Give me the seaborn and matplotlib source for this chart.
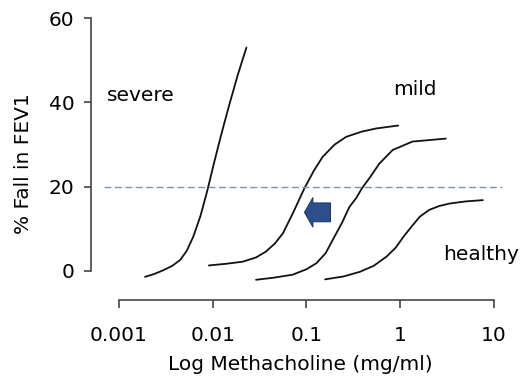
import matplotlib
matplotlib.use("Agg")
import numpy as np
import pandas as pd
import matplotlib.pyplot as plt
import seaborn as sns

# dose-response curves (dose in mg/ml, % fall in FEV1)
severe_dose = [0.0019, 0.0024, 0.0030, 0.0037, 0.0045, 0.0053, 0.0062, 0.0074, 0.0088,
               0.0103, 0.0119, 0.0135, 0.0152, 0.0185, 0.0229]
severe_fall = [-1.4, -0.7, 0.2, 1.2, 2.6, 4.8, 8.1, 13.0, 19.2,
               25.5, 31.0, 35.6, 39.8, 46.5, 53.0]

mild_dose = [0.0091, 0.014, 0.021, 0.029, 0.037, 0.046, 0.056, 0.072, 0.095,
             0.12, 0.149, 0.20, 0.264, 0.38, 0.55, 0.95]
mild_fall = [1.3, 1.7, 2.2, 3.2, 4.6, 6.5, 8.9, 13.8, 19.6,
             23.8, 27.1, 30.0, 31.8, 33.0, 33.8, 34.5]

moderate_dose = [0.029, 0.045, 0.071, 0.10, 0.127, 0.16, 0.191, 0.24, 0.287, 0.339,
                 0.39, 0.468, 0.60, 0.83, 1.35, 3.06]
moderate_fall = [-2.1, -1.6, -0.9, 0.4, 1.8, 4.2, 7.4, 11.5, 15.2, 17.3,
                 19.6, 22.0, 25.5, 28.7, 30.7, 31.4]

healthy_dose = [0.158, 0.25, 0.372, 0.52, 0.714, 0.90, 1.08, 1.35, 1.62, 2.04,
                2.6, 3.37, 5.0, 7.6]
healthy_fall = [-2.0, -1.3, -0.2, 1.2, 3.4, 5.6, 8.1, 10.8, 12.9, 14.5,
                15.4, 16.0, 16.5, 16.8]

threshold = 20
x_ticks = [0.001, 0.01, 0.1, 1, 10]
x_tick_labels = ["0.001", "0.01", "0.1", "1", "10"]
y_ticks = [0, 20, 40, 60]

frames = []
for name, d, f in [("severe", severe_dose, severe_fall),
                   ("mild", mild_dose, mild_fall),
                   ("moderate", moderate_dose, moderate_fall),
                   ("healthy", healthy_dose, healthy_fall)]:
    frames.append(pd.DataFrame({"dose": d, "fall": f, "group": name}))
df = pd.concat(frames, ignore_index=True)

sns.set_style("ticks")
plt.rcParams["font.family"] = ["DejaVu Sans"]
plt.rcParams["text.color"] = "black"
plt.rcParams["axes.labelcolor"] = "black"

fig = plt.figure(figsize=(5.28, 3.84), dpi=100)
ax = fig.add_axes([0.1723, 0.21875, 0.7937, 0.755])

sns.lineplot(data=df, x="dose", y="fall", hue="group", sort=False,
             palette=["#111111"] * 4, linewidth=1.3, legend=False, ax=ax)

ax.axhline(threshold, xmin=0.03, xmax=0.98, color="#7b93b8", linestyle=(0, (5, 2.5)),
           linewidth=1.0)

# blue arrow showing the shift to the left
ax.annotate("", xy=(0.0953, 13.9), xytext=(0.18, 13.9),
            arrowprops=dict(arrowstyle="simple,head_length=0.6,head_width=2.1,tail_width=1.35",
                            mutation_scale=10, shrinkA=0, shrinkB=0,
                            fc="#2c4f8c", ec="#1d3a6c", lw=0.8))

ax.set_xscale("log")
ax.set_xlim(0.000504, 14.8)
ax.set_ylim(-6.9, 61.9)
ax.set_xticks(x_ticks)
ax.set_xticklabels(x_tick_labels)
ax.minorticks_off()
ax.set_yticks(y_ticks)

sns.despine(ax=ax)
ax.spines["left"].set_bounds(0, 60)
ax.spines["bottom"].set_bounds(0.001, 10)
for s in ("left", "bottom"):
    ax.spines[s].set_color("#444444")
    ax.spines[s].set_linewidth(1.2)
ax.tick_params(axis="y", length=5, width=1.2, color="#444444", labelcolor="black",
               pad=7, labelsize=14.5)
ax.tick_params(axis="x", length=6, width=1.2, color="#444444", labelcolor="black",
               pad=13, labelsize=14.5)

ax.set_xlabel("Log Methacholine (mg/ml)", fontsize=14.5)
ax.set_ylabel("% Fall in FEV1", fontsize=14.5)
ax.xaxis.set_label_coords(0.5, -0.19)
ax.yaxis.set_label_coords(-0.138, 0.47)

ax.text(0.00075, 41.7, "severe", fontsize=14.5, va="center", ha="left")
ax.text(1.44, 43.1, "mild", fontsize=14.5, va="center", ha="center")
ax.text(2.86, 3.8, "healthy", fontsize=14.5, va="center", ha="left")

fig.savefig("out.png", dpi=100)
